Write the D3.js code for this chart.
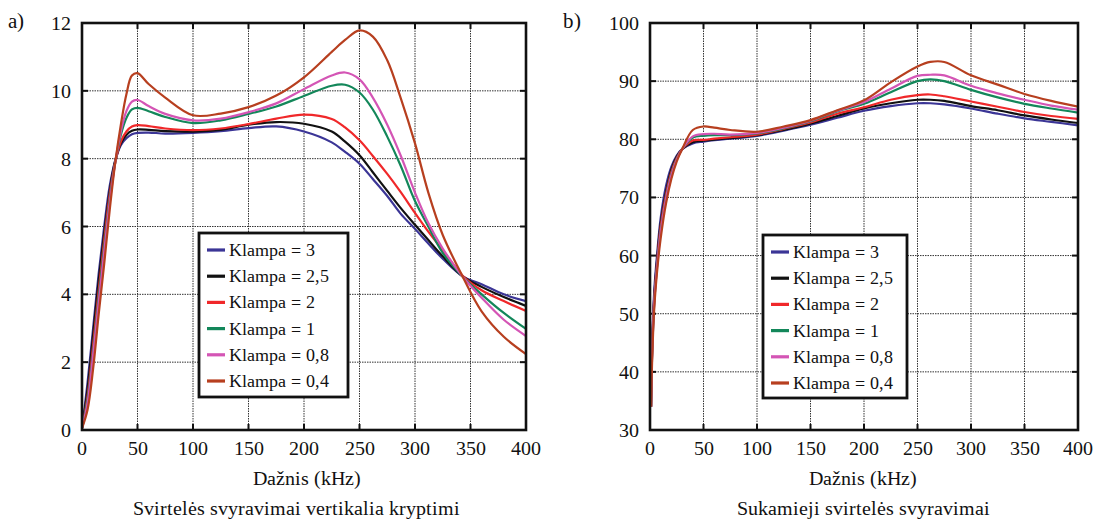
<!DOCTYPE html>
<html>
<head>
<meta charset="utf-8">
<script src="https://cdn.jsdelivr.net/npm/d3@7"></script>
<style>
  @font-face { font-family: "ChartSerif"; src: local("Liberation Serif"), local("LiberationSerif"), local("LiberationSerif-Regular"); }
</style>
</head>
<body style="margin:0">
<svg width="1094" height="521" font-family="ChartSerif" style="font-family: ChartSerif"></svg>
<script>
// ---- data ----
const klampaLabels = ["Klampa = 3", "Klampa = 2,5", "Klampa = 2", "Klampa = 1", "Klampa = 0,8", "Klampa = 0,4"];
const lineColors   = ["#3b3596", "#111111", "#f0282a", "#13875a", "#d455b5", "#b73f1f"];

const xTicks  = [0, 50, 100, 150, 200, 250, 300, 350, 400];
const yTicksA = [0, 2, 4, 6, 8, 10, 12];
const yTicksB = [30, 40, 50, 60, 70, 80, 90, 100];

// a) Svirtelės svyravimai vertikalia kryptimi
const freqA  = [0, 5, 10, 15, 20, 25, 30, 35, 40, 45, 50, 60, 75, 100, 125, 150, 175, 200, 225, 237, 250, 262, 275, 287, 300, 312, 325, 343, 360, 380, 400];
const vertK3  = [0.05, 1.4, 3.0, 4.6, 6.0, 7.2, 7.95, 8.4, 8.6, 8.72, 8.76, 8.77, 8.74, 8.76, 8.81, 8.9, 8.95, 8.8, 8.48, 8.2, 7.85, 7.4, 6.9, 6.38, 5.93, 5.5, 5.05, 4.53, 4.3, 4.0, 3.8];
const vertK25 = [0.05, 1.2, 2.8, 4.4, 5.8, 7.05, 7.95, 8.45, 8.7, 8.82, 8.86, 8.85, 8.81, 8.8, 8.85, 9.0, 9.08, 9.03, 8.8, 8.5, 8.1, 7.6, 7.05, 6.55, 6.05, 5.6, 5.12, 4.53, 4.22, 3.92, 3.66];
const vertK2  = [0.05, 1.0, 2.5, 4.1, 5.6, 6.95, 7.9, 8.5, 8.8, 8.95, 8.99, 8.96, 8.89, 8.84, 8.89, 9.02, 9.18, 9.3, 9.17, 8.92, 8.54, 8.08, 7.55, 7.02, 6.4, 5.85, 5.3, 4.55, 4.12, 3.8, 3.51];
const vertK1  = [0.05, 0.9, 2.3, 3.9, 5.4, 6.8, 7.9, 8.7, 9.2, 9.45, 9.5, 9.4, 9.23, 9.05, 9.13, 9.32, 9.54, 9.85, 10.15, 10.18, 9.95, 9.45, 8.65, 7.8, 6.75, 6.0, 5.22, 4.52, 4.0, 3.45, 2.98];
const vertK08 = [0.05, 0.8, 2.2, 3.75, 5.25, 6.7, 7.9, 8.8, 9.4, 9.68, 9.73, 9.55, 9.32, 9.13, 9.18, 9.37, 9.63, 10.05, 10.45, 10.54, 10.34, 9.8, 9.0, 8.1, 7.0, 6.1, 5.35, 4.52, 3.9, 3.25, 2.77];
const vertK04 = [0.05, 0.6, 1.8, 3.4, 4.9, 6.5, 7.9, 9.0, 9.9, 10.45, 10.52, 10.2, 9.8, 9.28, 9.33, 9.52, 9.86, 10.4, 11.15, 11.5, 11.78, 11.6, 10.9, 9.8, 8.45, 7.0, 5.75, 4.52, 3.5, 2.75, 2.24];

// b) Sukamieji svirtelės svyravimai
const freqB  = [1, 2, 4, 7, 10, 15, 20, 25, 30, 40, 50, 60, 75, 100, 125, 150, 175, 200, 225, 250, 262, 275, 300, 325, 350, 375, 400];
const rotK3  = [34, 45, 54, 61, 66.5, 72, 75.3, 77.2, 78.3, 79.3, 79.6, 79.85, 80.1, 80.6, 81.5, 82.5, 83.7, 84.9, 85.7, 86.2, 86.2, 86.0, 85.3, 84.4, 83.6, 83.0, 82.4];
const rotK25 = [34, 44, 53, 60, 65.5, 71, 74.8, 77, 78.3, 79.5, 79.75, 79.95, 80.2, 80.7, 81.6, 82.7, 84.0, 85.3, 86.2, 86.8, 86.8, 86.6, 85.7, 85.0, 84.1, 83.4, 82.8];
const rotK2  = [34, 43.5, 52.5, 59.5, 65, 70.5, 74.4, 76.8, 78.3, 79.8, 79.9, 80.1, 80.35, 80.8, 81.8, 82.9, 84.4, 85.5, 86.8, 87.6, 87.7, 87.4, 86.5, 85.6, 84.7, 84.0, 83.5];
const rotK1  = [34, 43, 52, 59, 64.3, 70, 74, 76.6, 78.3, 80.3, 80.6, 80.7, 80.7, 81.0, 81.9, 83.1, 84.8, 86.1, 88.1, 90.0, 90.3, 90.0, 88.5, 87.2, 86.1, 85.3, 84.6];
const rotK08 = [34, 43, 52, 58.8, 64, 69.8, 73.8, 76.5, 78.3, 80.5, 80.9, 80.95, 80.8, 81.1, 82.0, 83.2, 84.9, 86.4, 88.7, 90.9, 91.1, 91.0, 89.2, 87.9, 86.8, 85.8, 85.1];
const rotK04 = [34, 42, 51, 58, 63, 69, 73.2, 76.2, 78.3, 81.6, 82.2, 82.0, 81.6, 81.3, 82.2, 83.3, 85.0, 86.7, 89.8, 92.5, 93.3, 93.3, 91.0, 89.4, 87.8, 86.6, 85.6];

// ---- drawing ----
const svg = d3.select("svg");

function addText(x, y, str, size, anchor) {
  return svg.append("text")
    .attr("x", x).attr("y", y)
    .attr("text-anchor", anchor || "start")
    .attr("fill", "#111")
    .attr("font-family", "ChartSerif")
    .style("font-family", "ChartSerif")
    .style("font-size", size + "px")
    .text(str);
}

function drawPanel(p) {
  const x = d3.scaleLinear().domain([0, 400]).range([p.left, p.right]);
  const y = d3.scaleLinear().domain([p.yTicks[0], p.yTicks[p.yTicks.length - 1]]).range([p.bottom, p.top]);
  const g = svg.append("g");

  // dotted grid
  g.selectAll(".gx").data(xTicks.slice(1, -1)).join("line")
    .attr("x1", d => x(d)).attr("x2", d => x(d))
    .attr("y1", p.top).attr("y2", p.bottom);
  g.selectAll(".gy").data(p.yTicks.slice(1, -1)).join("line")
    .attr("x1", p.left).attr("x2", p.right)
    .attr("y1", d => y(d)).attr("y2", d => y(d));
  g.selectAll("line")
    .attr("stroke", "#333").attr("stroke-width", 1).attr("stroke-dasharray", "1.5,1");

  // inward tick marks on all sides
  const tk = 6;
  const ticks = g.append("g").attr("stroke", "#111").attr("stroke-width", 2);
  xTicks.slice(1, -1).forEach(d => {
    ticks.append("line").attr("x1", x(d)).attr("x2", x(d)).attr("y1", p.bottom).attr("y2", p.bottom - tk);
    ticks.append("line").attr("x1", x(d)).attr("x2", x(d)).attr("y1", p.top).attr("y2", p.top + tk);
  });
  p.yTicks.slice(1, -1).forEach(d => {
    ticks.append("line").attr("x1", p.left).attr("x2", p.left + tk).attr("y1", y(d)).attr("y2", y(d));
    ticks.append("line").attr("x1", p.right).attr("x2", p.right - tk).attr("y1", y(d)).attr("y2", y(d));
  });

  // curves
  const clipId = "clip" + p.id;
  svg.append("clipPath").attr("id", clipId).append("rect")
    .attr("x", p.left).attr("y", p.top).attr("width", p.right - p.left).attr("height", p.bottom - p.top);

  const line = d3.line()
    .x(d => x(d[0]))
    .y(d => y(d[1]))
    .curve(d3.curveCatmullRom.alpha(0.5));

  const curves = g.append("g").attr("clip-path", `url(#${clipId})`);
  p.series.forEach((vals, i) => {
    curves.append("path")
      .attr("d", line(p.freq.map((f, j) => [f, vals[j]])))
      .attr("fill", "none")
      .attr("stroke", lineColors[i])
      .attr("stroke-width", 2.2)
      .attr("stroke-linejoin", "round");
  });

  // frame
  g.append("rect")
    .attr("x", p.left).attr("y", p.top)
    .attr("width", p.right - p.left).attr("height", p.bottom - p.top)
    .attr("fill", "none").attr("stroke", "#111").attr("stroke-width", 2.6);

  // tick labels
  xTicks.forEach(d => addText(x(d), p.bottom + 25, String(d), 20, "middle"));
  p.yTicks.forEach(d => addText(p.left - 11, y(d) + 7, String(d), 20, "end"));

  // titles
  const cx = (p.left + p.right) / 2;
  addText(cx + p.titleShift, 485, "Dažnis (kHz)", 20, "middle");
  addText(cx + p.captionShift, 515, p.caption, 20, "middle");
  addText(p.tagX, 28, p.tag, 21);

  // legend
  svg.append("rect").attr("x", p.legX).attr("y", p.legY)
    .attr("width", p.legW).attr("height", p.legH)
    .attr("fill", "#fff").attr("stroke", "#111").attr("stroke-width", 2.8);
  klampaLabels.forEach((lab, i) => {
    const ly = p.legY + 17 + i * 26.2;
    svg.append("line").attr("x1", p.legX + 8).attr("x2", p.legX + 26).attr("y1", ly).attr("y2", ly)
      .attr("stroke", lineColors[i]).attr("stroke-width", 3.2);
    addText(p.legX + 30, ly + 6, lab, 18);
  });
}

drawPanel({
  id: "a", left: 82, right: 526, top: 23, bottom: 430,
  yTicks: yTicksA, freq: freqA,
  series: [vertK3, vertK25, vertK2, vertK1, vertK08, vertK04],
  caption: "Svirtelės svyravimai vertikalia kryptimi", tag: "a)", tagX: 8,
  titleShift: 3, captionShift: -8,
  legX: 199, legY: 233, legW: 149, legH: 164
});

drawPanel({
  id: "b", left: 650, right: 1078, top: 23, bottom: 430,
  yTicks: yTicksB, freq: freqB,
  series: [rotK3, rotK25, rotK2, rotK1, rotK08, rotK04],
  caption: "Sukamieji svirtelės svyravimai", tag: "b)", tagX: 563,
  titleShift: -1, captionShift: -1,
  legX: 763, legY: 235, legW: 144, legH: 163
});
</script>
</body>
</html>
